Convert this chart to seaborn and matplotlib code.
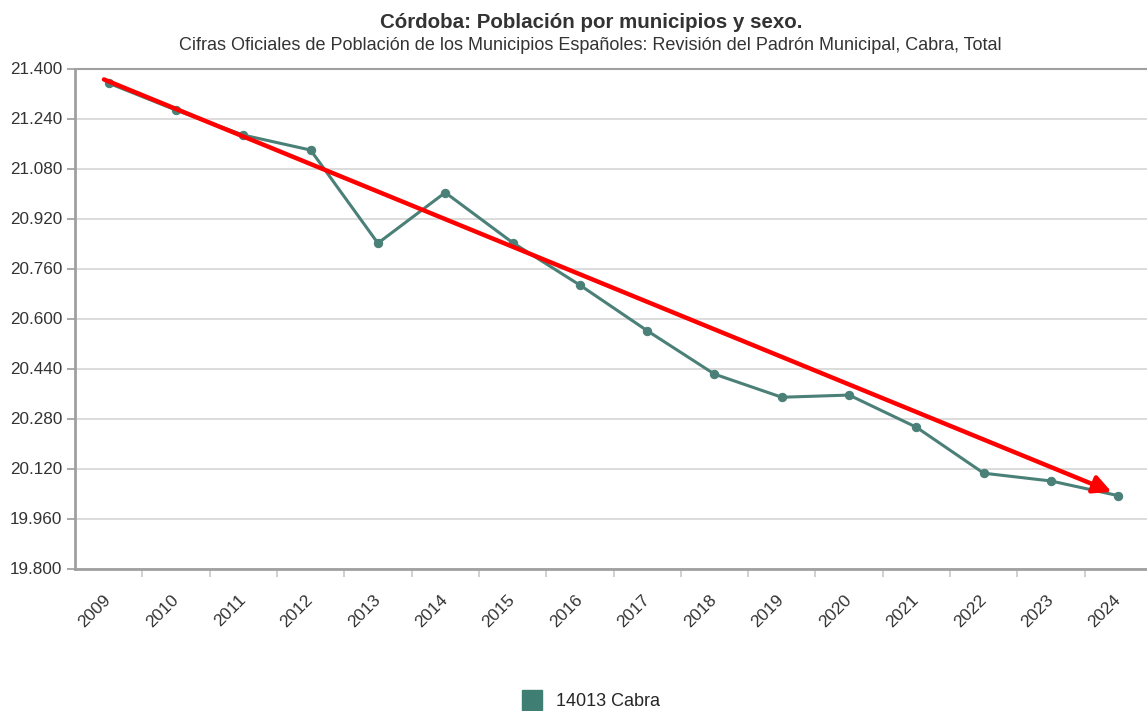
import numpy as np
import pandas as pd
import matplotlib.pyplot as plt
import seaborn as sns
from matplotlib.lines import Line2D
from matplotlib.ticker import FuncFormatter

# Datos
years = ["2009", "2010", "2011", "2012", "2013", "2014", "2015", "2016",
         "2017", "2018", "2019", "2020", "2021", "2022", "2023", "2024"]
population = [21353, 21267, 21187, 21139, 20841, 21003, 20843, 20707,
              20561, 20422, 20348, 20355, 20252, 20105, 20080, 20033]
series_name = "14013 Cabra"
y_ticks = [19800, 19960, 20120, 20280, 20440, 20600, 20760, 20920,
           21080, 21240, 21400]

# Flecha roja de tendencia (inicio / fin)
arrow_x = [-0.07, 14.9]
arrow_y = [21365, 20045]

df = pd.DataFrame({"Año": years, "Población": population})

sns.set_theme(style="white")
plt.rcParams["font.family"] = ["Liberation Sans", "DejaVu Sans"]

fig = plt.figure(figsize=(11.47, 7.11), dpi=100)
ax = fig.add_axes([75 / 1147, 142.5 / 711, 1077 / 1147, 500 / 711])

line_color = "#4a8077"
sns.lineplot(data=df, x="Año", y="Población", ax=ax, color=line_color,
             linewidth=2.2, marker="o", markersize=6,
             markeredgecolor=line_color, sort=False)

ax.set_xlim(-0.5, len(years) - 0.5)
ax.set_ylim(y_ticks[0], y_ticks[-1])
ax.set_yticks(y_ticks)
ax.yaxis.set_major_formatter(
    FuncFormatter(lambda v, p: f"{v:,.0f}".replace(",", ".")))

# Cuadrícula y ejes
ax.grid(axis="y", color="#d9d9d9", linewidth=1.3)
ax.grid(axis="x", visible=False)
for side in ["left", "bottom", "top"]:
    ax.spines[side].set_color("#a0a0a0")
    ax.spines[side].set_linewidth(2)
ax.spines["top"].set_linewidth(1.5)
ax.spines["right"].set_visible(False)

ax.tick_params(axis="y", left=True, length=6, color="#a0a0a0",
               labelsize=12.3, labelcolor="#333333", pad=3)
ax.set_xticks(range(len(years)))
ax.set_xticks([i + 0.5 for i in range(len(years))], minor=True)
ax.tick_params(axis="x", which="major", length=0, labelsize=12.5,
               labelcolor="#333333", pad=21)
ax.tick_params(axis="x", which="minor", bottom=True, length=6,
               color="#c8c8c8", width=1.2)
for lbl in ax.get_xticklabels():
    lbl.set_rotation(45)
    lbl.set_ha("right")
    lbl.set_va("center")
    lbl.set_rotation_mode("anchor")
ax.set_xlabel("")
ax.set_ylabel("")

# Flecha roja
ax.annotate("", xy=(arrow_x[1], arrow_y[1]), xytext=(arrow_x[0], arrow_y[0]),
            arrowprops=dict(arrowstyle="-|>", color="#ff0000", lw=3.2,
                            mutation_scale=27, shrinkA=0, shrinkB=0))

# Títulos
fig.text(591 / 1147, 1 - 22 / 711, "Córdoba: Población por municipios y sexo.",
         ha="center", va="center", fontsize=14.8, fontweight="bold",
         color="#333333")
fig.text(590 / 1147, 1 - 46 / 711,
         "Cifras Oficiales de Población de los Municipios Españoles: "
         "Revisión del Padrón Municipal, Cabra, Total",
         ha="center", va="center", fontsize=13, color="#333333")

# Leyenda
handle = Line2D([], [], linestyle="none", marker="s", markersize=15,
                color="#3f7f73")
fig.legend([handle], [series_name], loc="center",
           bbox_to_anchor=(587 / 1147, 1 - 702 / 711), frameon=False,
           fontsize=13, handletextpad=0.3, borderaxespad=0)

fig.savefig("out.png", dpi=100, facecolor="white")
